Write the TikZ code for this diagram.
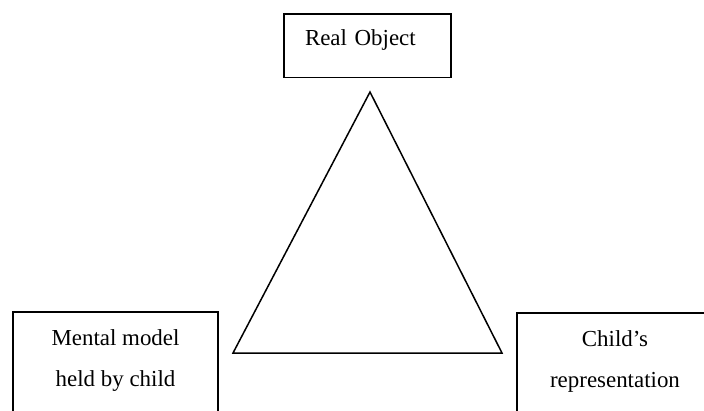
\documentclass[tikz,border=0pt]{standalone}
\usepackage{fontspec}
\setmainfont{Liberation Serif}
\usetikzlibrary{positioning}
\begin{document}
\begin{tikzpicture}[x=1bp,y=-1bp,
    box/.style={draw, line width=1.5bp, font=\fontsize{23}{41}\selectfont, align=center}]
    % page of 704 x 410, boxes at the bottom run off the page
    \clip (0,0) rectangle (704,410);

    % the real object on top
    \node (real) [box, anchor=north, inner xsep=21bp, inner ysep=16bp,
        text width=125bp, align=left, text depth=16bp] at (367.5,13) {Real Object};

    % the two corners below
    \node (mental) [box, anchor=north, minimum width=205bp, inner ysep=18bp,
        text depth=100bp] at (115.5,311) {Mental model\\held by child};
    \node (repr) [box, anchor=north, minimum width=196bp, inner ysep=18bp,
        text depth=100bp] at (615,312) {Child's\\representation};

    % triangle in the middle
    \coordinate (apex) at (370,92);
    \coordinate (left) at (233,353);
    \coordinate (right) at (502,353);
    \draw[line width=1.5bp] (apex) -- (left) -- (right) -- cycle;
\end{tikzpicture}
\end{document}
